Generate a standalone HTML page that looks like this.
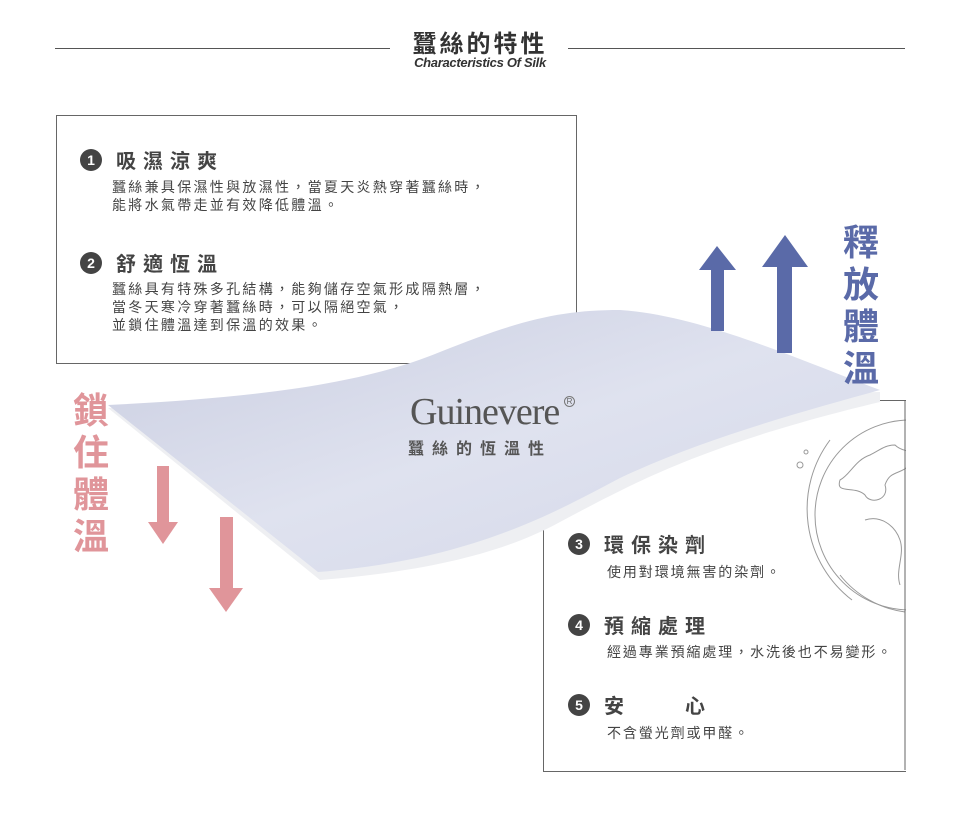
<!DOCTYPE html>
<html><head><meta charset="utf-8"><style>
body{margin:0;width:960px;height:816px;background:#fff;position:relative;overflow:hidden;font-family:"Liberation Sans","Noto Sans CJK TC",sans-serif;color:#444}
.a{position:absolute;white-space:nowrap}
.h{font-size:20px;font-weight:bold;letter-spacing:7px;color:#444}
.p{font-size:14px;line-height:18px;color:#444;letter-spacing:2.3px}
.q{font-size:14px;line-height:18px;color:#444;letter-spacing:1.9px}
.n{display:inline-block;width:22px;height:22px;border-radius:50%;background:#444;color:#fff;font-size:14px;line-height:22px;text-align:center;font-weight:bold;vertical-align:3px;margin-right:14px;letter-spacing:0}
.v{font-size:36px;font-weight:bold;line-height:42px;width:42px;text-align:center}
</style></head><body>
<div class="a" style="left:55px;top:48px;width:335px;border-top:1px solid #555"></div>
<div class="a" style="left:568px;top:48px;width:337px;border-top:1px solid #555"></div>
<div class="a" style="left:400px;top:24px;width:160px;text-align:center;font-size:24px;font-weight:bold;color:#333;letter-spacing:3px">蠶絲的特性</div>
<div class="a" style="left:380px;top:55px;width:200px;text-align:center;font-size:13px;font-weight:bold;font-style:italic;color:#333;letter-spacing:-0.3px">Characteristics Of Silk</div>

<div class="a" style="left:56px;top:115px;width:519px;height:247px;border:1px solid #666"></div>

<div class="a h" style="left:80px;top:145px"><span class="n">1</span>吸濕涼爽</div>
<div class="a p" style="left:112px;top:178px">蠶絲兼具保濕性與放濕性，當夏天炎熱穿著蠶絲時，<br>能將水氣帶走並有效降低體溫。</div>
<div class="a h" style="left:80px;top:248px"><span class="n">2</span>舒適恆溫</div>
<div class="a p" style="left:112px;top:280px">蠶絲具有特殊多孔結構，能夠儲存空氣形成隔熱層，<br>當冬天寒冷穿著蠶絲時，可以隔絕空氣，<br>並鎖住體溫達到保溫的效果。</div>

<div class="a" style="left:543px;top:400px;width:362px;height:370px;border:1px solid #666"></div>

<svg class="a" style="left:0;top:0" width="960" height="816">
<defs><linearGradient id="g" x1="0" y1="0" x2="1" y2="1"><stop offset="0" stop-color="#c9cde0"/><stop offset="0.5" stop-color="#dfe2ef"/><stop offset="1" stop-color="#d3d7e8"/></linearGradient></defs>
<path d="M108,408 L320,580 C420,572 500,555 560,522 C630,485 700,445 880,402 L880,392 Z" fill="#eeeff2"/>
<path d="M108,405 C250,398 360,385 440,352 C520,320 560,310 620,310 C700,315 800,360 880,390 C800,412 700,440 620,478 C550,515 470,560 318,572 Z" fill="url(#g)"/>
<g fill="none" stroke="#999" stroke-width="1">
<circle cx="910" cy="515" r="95"/>
<path d="M830,440 A115,115 0 0 0 852,600"/>
<path d="M905,612 A100,100 0 0 1 840,575"/>
<path d="M895,445 c10,10 20,0 15,20 c-10,10 -20,5 -25,20 c5,15 -15,20 -20,10 c-10,-10 -30,0 -25,-15 c10,-5 15,-20 30,-25 c10,-5 15,-10 25,-10z"/>
<path d="M865,520 c15,-5 30,5 35,20 c5,15 -5,30 0,45"/>
<circle cx="806" cy="452" r="2"/><circle cx="800" cy="465" r="3"/>
</g>
<rect x="906" y="400" width="60" height="380" fill="#fff"/>
<line x1="905" y1="400" x2="905" y2="770" stroke="#666"/>
<g fill="#5a6aa8">
<rect x="711" y="268" width="13" height="63"/><polygon points="699,270 717,246 736,270"/>
<rect x="777" y="262" width="15" height="91"/><polygon points="762,267 785,235 808,267"/>
</g>
<g fill="#e0959a">
<rect x="157" y="466" width="12" height="60"/><polygon points="148,522 163,544 178,522"/>
<rect x="220" y="517" width="13" height="75"/><polygon points="209,588 226,612 243,588"/>
</g>
</svg>

<div class="a" style="left:410px;top:390px;font-family:'Liberation Serif',serif;font-size:38px;color:#555;letter-spacing:-1px">Guinevere</div>
<div class="a" style="left:564px;top:396px;font-size:8px;color:#666;border:1px solid #777;border-radius:50%;width:9px;height:9px;line-height:9px;text-align:center">R</div>
<div class="a" style="left:408px;top:435px;font-size:16px;font-weight:bold;color:#555;letter-spacing:8px">蠶絲的恆溫性</div>

<div class="a v" style="left:840px;top:222px;color:#5a6aa8">釋<br>放<br>體<br>溫</div>
<div class="a v" style="left:70px;top:390px;color:#e0959a">鎖<br>住<br>體<br>溫</div>

<div class="a h" style="left:568px;top:529px"><span class="n">3</span>環保染劑</div>
<div class="a q" style="left:607px;top:563px">使用對環境無害的染劑。</div>
<div class="a h" style="left:568px;top:610px"><span class="n">4</span>預縮處理</div>
<div class="a q" style="left:607px;top:643px">經過專業預縮處理，水洗後也不易變形。</div>
<div class="a h" style="left:568px;top:690px"><span class="n">5</span>安　　心</div>
<div class="a q" style="left:607px;top:724px">不含螢光劑或甲醛。</div>
</body></html>
